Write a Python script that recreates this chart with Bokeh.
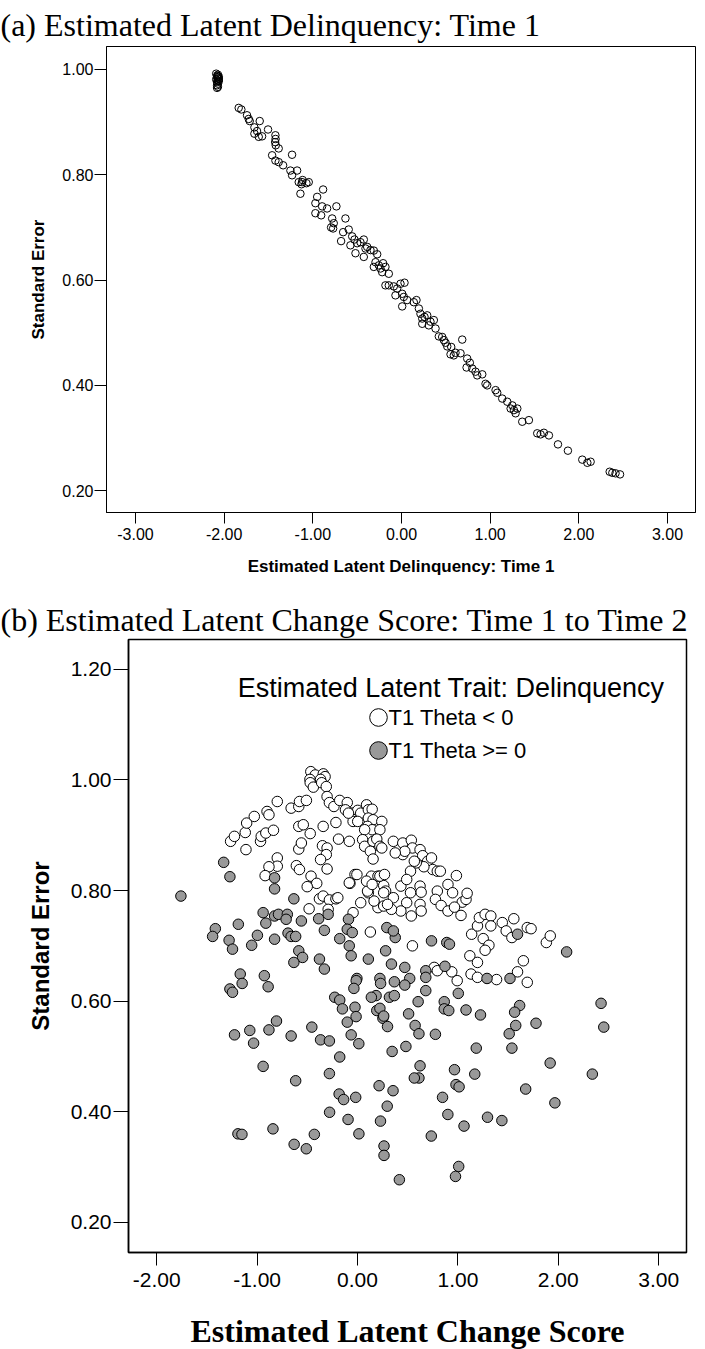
from bokeh.plotting import figure
from bokeh.models import Range1d, FixedTicker, PrintfTickFormatter, Legend, LegendItem, Label
from bokeh.embed import file_html
from bokeh.resources import INLINE

# ---------------- Panel (a): Estimated latent delinquency (Time 1) vs standard error
a_theta = [
    -2.09, -2.08, -2.08, -2.07, -2.07, -2.07, -2.06, -2.08, -2.07, -2.06, -2.08, -2.07, -2.09, -2.07, -2.06, -2.08,
    -1.836, -1.806, -1.742, -1.723, -1.712, -1.599, -1.659, -1.629, -1.572, -1.610, -1.659, -1.505,
    -1.422, -1.420, -1.425, -1.418, -1.385, -1.234, -1.459, -1.422, -1.385, -1.335, -1.253, -1.234,
    -1.177, -1.121, -1.115, -1.128, -1.159, -1.072, -1.046, -1.140, -0.884, -0.951,
    -0.971, -0.895, -0.839, -0.734, -0.971, -0.906, -0.782, -0.764, -0.794, -0.771, -0.632, -0.658,
    -0.595, -0.681, -0.556, -0.530, -0.500, -0.463, -0.425, -0.387, -0.350, -0.406, -0.519, -0.576,
    -0.425, -0.312, -0.274, -0.293, -0.256, -0.207, -0.181, -0.237, -0.312, -0.218, -0.143,
    -0.181, -0.143, -0.087, -0.049, -0.011, 0.034, 0.008, -0.068, 0.026, 0.064, 0.008, 0.139, 0.169,
    0.196, 0.214, 0.234, 0.260, 0.290, 0.327, 0.365, 0.234, 0.308, 0.384,
    0.421, 0.459, 0.478, 0.497, 0.516, 0.561, 0.553, 0.590, 0.609, 0.666, 0.685,
    0.741, 0.771, 0.734, 0.798, 0.835, 0.854, 0.911, 0.948, 0.967, 1.061, 1.080, 1.136, 1.193,
    1.231, 1.268, 1.287, 1.306, 1.250, 1.362, 1.437, 1.531, 1.569, 1.606, 1.663, 1.765, 1.877,
    2.039, 2.096, 2.133, 2.348, 2.378, 2.414, 2.465,
]
a_se = [
    0.992, 0.988, 0.985, 0.990, 0.983, 0.979, 0.986, 0.976, 0.973, 0.978, 0.970, 0.967, 0.981, 0.987, 0.982, 0.965,
    0.927, 0.924, 0.913, 0.906, 0.902, 0.902, 0.890, 0.883, 0.873, 0.872, 0.878, 0.886,
    0.875, 0.868, 0.862, 0.856, 0.850, 0.838, 0.837, 0.827, 0.824, 0.818, 0.808, 0.799,
    0.808, 0.786, 0.790, 0.782, 0.786, 0.784, 0.786, 0.764, 0.772, 0.758,
    0.746, 0.740, 0.736, 0.740, 0.727, 0.723, 0.717, 0.708, 0.700, 0.698, 0.717, 0.691,
    0.696, 0.674, 0.683, 0.677, 0.670, 0.672, 0.677, 0.663, 0.657, 0.660, 0.651, 0.666,
    0.644, 0.656, 0.649, 0.634, 0.628, 0.632, 0.625, 0.622, 0.625, 0.615, 0.612,
    0.590, 0.590, 0.588, 0.584, 0.593, 0.595, 0.574, 0.571, 0.568, 0.562, 0.550, 0.558, 0.562,
    0.546, 0.536, 0.527, 0.530, 0.533, 0.521, 0.524, 0.517, 0.514, 0.508,
    0.493, 0.492, 0.486, 0.481, 0.474, 0.473, 0.459, 0.457, 0.462, 0.461, 0.487,
    0.451, 0.443, 0.434, 0.432, 0.426, 0.419, 0.421, 0.403, 0.400, 0.391, 0.386, 0.375, 0.369,
    0.356, 0.353, 0.347, 0.356, 0.362, 0.331, 0.334, 0.309, 0.307, 0.310, 0.305, 0.288, 0.276,
    0.259, 0.253, 0.255, 0.236, 0.234, 0.233, 0.231,
]

# ---------------- Panel (b): estimated latent change score vs standard error
neg_change = [
    -0.465, -0.421, -0.341, -0.323, -0.474, -0.368, -0.471, -0.440, -0.357, -0.311, -0.303, -0.280, -0.235,
    -0.177, -0.102, -0.120, -0.052, -0.044, 0.002, 0.032, 0.090, 0.108, 0.146, 0.108, 0.155, 0.100, 0.146,
    0.242, 0.223, 0.071, 0.002,
    0.051, 0.071, 0.155, 0.192, 0.223, 0.242, 0.128, 0.155,
    0.357, 0.451, 0.536, 0.547, 0.623, 0.649, 0.699, 0.737, 0.749, 0.795, 0.825, 0.661, 0.585,
    0.451, 0.471, 0.376, 0.528, 0.566,
    0.985, 0.901, 0.947, 1.043, 1.081, 1.092,
    0.795, 0.776, 0.833, 0.901, 1.031, 0.966,
    0.623, 0.634, 0.623, 0.634, 0.536,
    0.432, 0.490, 0.490, 0.528, 0.432,
    0.357, 0.338, 0.261, 0.280, 0.204, 0.261, 0.299, 0.165, 0.108, 0.100,
    0.032, 0.139, 0.090, 0.204,
    -0.025, -0.075, -0.044,
    0.128, 0.547,
    1.137, 1.195, 1.214, 1.271, 1.328, 1.252, 1.309, 1.271, 1.119, 1.195, 1.328, 1.442, 1.481, 1.557,
    1.538, 1.691, 1.729, 1.652, 1.594, 1.691, 1.131, 1.195, 1.385, 1.881, 1.920,
    0.764, 0.795, 0.939, 0.993,
    -1.264, -1.226, -1.118, -1.104, -1.028, -1.111, -0.966, -0.959, -0.913, -0.837, -0.901, -0.882,
    -0.799, -0.661, -0.585, -0.578, -0.509, -0.585, -0.540, -0.471, -0.342, -0.215, -0.189, -0.082,
    -0.090, -0.585, -0.559, -0.349, -0.303, -0.311, -0.368, -0.303, -0.799, -0.799, -0.882, -0.920,
    -0.609, -0.578, -0.463, -0.406, -0.501, -0.379, -0.342, -0.280, -0.215, -0.196, -0.482, -0.292,
    -0.006, -0.082, 0.223, 0.269, 0.146, 0.261,
]
neg_se = [
    1.015, 1.009, 1.011, 1.006, 1.001, 1.001, 0.995, 0.987, 0.995, 0.988, 0.970, 0.959, 0.952,
    0.963, 0.959, 0.946, 0.940, 0.925, 0.945, 0.940, 0.955, 0.946, 0.947, 0.931, 0.928, 0.916, 0.910,
    0.925, 0.910, 0.910, 0.925,
    0.892, 0.880, 0.889, 0.893, 0.880, 0.877, 0.871, 0.857,
    0.889, 0.886, 0.891, 0.877, 0.874, 0.863, 0.853, 0.859, 0.838, 0.835, 0.835, 0.843, 0.850,
    0.865, 0.871, 0.868, 0.835, 0.853,
    0.827, 0.811, 0.796, 0.779, 0.784, 0.795,
    0.799, 0.784, 0.773, 0.763, 0.755, 0.770,
    0.808, 0.797, 0.775, 0.763, 0.754,
    0.808, 0.820, 0.778, 0.796, 0.763,
    0.787, 0.766, 0.809, 0.799, 0.769, 0.772, 0.775, 0.781, 0.796, 0.799,
    0.778, 0.826, 0.817, 0.826,
    0.829, 0.813, 0.760,
    0.725, 0.700,
    0.721, 0.736, 0.751, 0.757, 0.754, 0.713, 0.701, 0.692, 0.682, 0.670, 0.736, 0.742, 0.727, 0.749,
    0.715, 0.733, 0.731, 0.673, 0.653, 0.634, 0.649, 0.643, 0.639, 0.706, 0.718,
    0.661, 0.655, 0.653, 0.637,
    0.889, 0.898, 0.905, 0.922, 0.934, 0.874, 0.889, 0.898, 0.904, 0.909, 0.943, 0.937,
    0.961, 0.949, 0.952, 0.961, 0.963, 0.916, 0.919, 0.903, 0.916, 0.923, 0.893, 0.889,
    0.940, 0.875, 0.886, 0.881, 0.877, 0.865, 0.856, 0.839, 0.859, 0.844, 0.843, 0.827,
    0.845, 0.838, 0.826, 0.813, 0.807, 0.785, 0.790, 0.783, 0.785, 0.787, 0.767, 0.766,
    0.829, 0.814, 0.826, 0.829, 0.811, 0.796,
]

pos_change = [
    -1.333, -1.271, -1.759, -0.826, -0.826, -0.634, -0.940, -0.913, -0.826, -0.787, -0.699, -0.711, -0.559,
    -0.387, -0.292, -0.090, -0.102, -0.052, -1.416, -1.443, -1.187, -1.279, -1.245, -1.054, -0.997, -0.826,
    -0.692, -0.661, -0.616, -0.585, -0.547, -0.634, -0.379, -0.330, -0.330, -0.177, -0.082, -0.063, 0.108,
    0.280, 0.338, 0.376, 0.292, 0.357, 0.471, 0.520, 0.471, 0.737, 0.889, 0.916, 0.680, 0.680, 0.871,
    -0.006, -0.013, -0.036, 0.223, 0.230, 0.185, 0.138, 0.367, 0.318, 0.367,
    -1.168, -1.149, -1.271, -1.245, -0.928, -0.890, -0.227, -0.177, -0.150, -0.102, -0.025, -0.014,
    -0.063, 0.013, -0.177, -0.280, -0.368, -0.280, -1.225, -1.073, -1.035, -0.882, -0.807, -0.661,
    -0.455, -0.940, -0.616, 0.192, 0.223, 0.253, 0.299, 0.261, 0.509, 0.574, 0.612, 0.604, 0.680,
    0.776, 0.864, 0.864, 0.909, 1.004, 1.081, 1.225, 1.183, 1.168, 0.966, 0.345, 0.482, 0.623, 0.612,
    0.566, 1.519, 1.290, 1.615, 1.565, 1.576, 1.511, 1.538, 1.778, 1.919, 2.339, 2.426, 2.453, 2.083, 1.594,
    -0.183, -0.138, -0.018, -0.278, -0.094, 0.014, 0.215, 0.354, 0.229, 0.296, 0.264, 0.264, 0.417,
    0.981, 1.012, 0.847, 0.900, 0.735, 1.061, 1.295, 1.438, 1.008, 0.976, 1.675, 1.966,
    -1.191, -1.151, -0.842, -0.631, -0.510, -0.430,
]
pos_se = [
    0.851, 0.825, 0.790, 0.823, 0.803, 0.785, 0.760, 0.741, 0.754, 0.757, 0.757, 0.748, 0.745,
    0.749, 0.757, 0.748, 0.730, 0.724, 0.731, 0.717, 0.739, 0.710, 0.694, 0.701, 0.719, 0.712,
    0.723, 0.717, 0.717, 0.691, 0.679, 0.670, 0.676, 0.658, 0.728, 0.713, 0.700, 0.682, 0.676,
    0.691, 0.667, 0.715, 0.733, 0.727, 0.661, 0.641, 0.629, 0.709, 0.706, 0.703, 0.655, 0.643, 0.663,
    0.641, 0.637, 0.623, 0.641, 0.632, 0.610, 0.607, 0.635, 0.607, 0.610,
    0.649, 0.632, 0.622, 0.616, 0.646, 0.626, 0.607, 0.602, 0.586, 0.562, 0.589, 0.572,
    0.539, 0.523, 0.499, 0.469, 0.530, 0.528, 0.539, 0.547, 0.524, 0.548, 0.564, 0.537,
    0.553, 0.482, 0.456, 0.583, 0.587, 0.569, 0.554, 0.573, 0.577, 0.556, 0.541, 0.599, 0.619,
    0.540, 0.599, 0.586, 0.583, 0.614, 0.584, 0.575, 0.515, 0.468, 0.476, 0.509, 0.518, 0.483, 0.461,
    0.461, 0.641, 0.641, 0.592, 0.580, 0.556, 0.541, 0.515, 0.560, 0.488, 0.468, 0.596, 0.553, 0.689, 0.721,
    0.432, 0.422, 0.426, 0.399, 0.386, 0.360, 0.447, 0.438, 0.383, 0.410, 0.338, 0.321, 0.277,
    0.449, 0.445, 0.426, 0.395, 0.356, 0.374, 0.390, 0.384, 0.301, 0.283, 0.441, 0.416,
    0.360, 0.359, 0.369, 0.341, 0.333, 0.359,
]

a_xticks = [-3, -2, -1, 0, 1, 2, 3]
a_yticks = [0.2, 0.4, 0.6, 0.8, 1.0]
b_xticks = [-2, -1, 0, 1, 2, 3]
b_yticks = [0.2, 0.4, 0.6, 0.8, 1.0, 1.2]

title_a = "(a)  Estimated Latent Delinquency: Time 1"
title_b = "(b)  Estimated Latent Change Score: Time 1 to Time 2"
legend_title = "Estimated Latent Trait: Delinquency"
legend_labels = ["T1 Theta < 0", "T1 Theta >= 0"]

SANS = "Liberation Sans"
SERIF = "Liberation Serif"


def style(p, xticks, yticks, tick_size, xtick_out, ytick_out, xstand, ystand, outline_w):
    p.xgrid.visible = False
    p.ygrid.visible = False
    p.outline_line_color = "black"
    p.outline_line_width = outline_w
    p.outline_line_alpha = 1
    p.xaxis.ticker = FixedTicker(ticks=xticks)
    p.yaxis.ticker = FixedTicker(ticks=yticks)
    for ax, out, st in ((p.xaxis, xtick_out, xstand), (p.yaxis, ytick_out, ystand)):
        ax.formatter = PrintfTickFormatter(format="%.2f")
        ax.axis_line_color = "black"
        ax.axis_line_width = outline_w
        ax.major_tick_line_color = "black"
        ax.major_tick_line_width = 1
        ax.major_tick_out = out
        ax.major_tick_in = 0
        ax.minor_tick_line_color = None
        ax.major_label_text_font = SANS
        ax.major_label_text_font_size = tick_size
        ax.major_label_text_color = "black"
        ax.major_label_standoff = st
        ax.axis_label_text_color = "black"
    p.title.text_font = SERIF
    p.title.text_font_size = "32px"
    p.title.text_font_style = "normal"
    p.title.text_color = "black"
    p.title.align = "left"


# ---------- figure (a)
p1 = figure(
    frame_width=589, frame_height=466,
    x_range=Range1d(-3.327, 3.316), y_range=Range1d(0.1586, 1.0436),
    min_border_left=106, min_border_right=10, min_border_top=46, min_border_bottom=78,
    output_backend="svg", toolbar_location=None, title=title_a,
)
style(p1, a_xticks, a_yticks, "16px", 11, 12, 4, 1, 1)
p1.title.offset = -106
p1.title.standoff = 8
p1.scatter(a_theta, a_se, marker="circle", size=7.5, fill_color=None,
           line_color="black", line_width=1)
p1.xaxis.axis_label = "Estimated Latent Delinquency: Time 1"
p1.yaxis.axis_label = "Standard Error"
for ax in (p1.xaxis, p1.yaxis):
    ax.axis_label_text_font = SANS
    ax.axis_label_text_font_size = "17px"
    ax.axis_label_text_font_style = "bold"
p1.xaxis.axis_label_standoff = 14
p1.yaxis.axis_label_standoff = 11

# ---------- figure (b)
p2 = figure(
    frame_width=558, frame_height=613,
    x_range=Range1d(-2.281, 3.277), y_range=Range1d(0.1454, 1.254),
    min_border_left=128, min_border_right=19, min_border_top=49, min_border_bottom=97,
    output_backend="svg", toolbar_location=None, title=title_b,
)
style(p2, b_xticks, b_yticks, "21px", 13, 15, 7, 2, 1.5)
p2.title.offset = -128
p2.title.standoff = 4
r_neg = p2.scatter(neg_change, neg_se, marker="circle", size=10.5, fill_color="white",
                   line_color="black", line_width=1)
r_pos = p2.scatter(pos_change, pos_se, marker="circle", size=10.5, fill_color="#999999",
                   line_color="black", line_width=1)
p2.xaxis.axis_label = "Estimated Latent Change Score"
p2.xaxis.axis_label_text_font = SERIF
p2.xaxis.axis_label_text_font_size = "32px"
p2.xaxis.axis_label_text_font_style = "bold"
p2.xaxis.axis_label_standoff = 23
p2.yaxis.axis_label = "Standard Error"
p2.yaxis.axis_label_text_font = SANS
p2.yaxis.axis_label_text_font_size = "24px"
p2.yaxis.axis_label_text_font_style = "bold"
p2.yaxis.axis_label_standoff = 14

# legend: title, one swatch legend per group, and the group labels
p2.add_layout(Label(x=536, y=565, x_units="screen", y_units="screen", text=legend_title,
                    text_align="right", text_baseline="alphabetic", text_font=SANS,
                    text_font_size="27px", text_color="black"))

for rend, loc in ((r_neg, (228, 513)), (r_pos, (228, 480))):
    p2.add_layout(Legend(
        items=[LegendItem(label="", renderers=[rend])],
        location=loc, padding=0, margin=0, spacing=0,
        glyph_width=44, glyph_height=44, label_standoff=0, label_width=0,
        background_fill_alpha=0, border_line_alpha=0,
    ))

for txt, ypos in ((legend_labels[0], 535), (legend_labels[1], 502)):
    p2.add_layout(Label(x=260, y=ypos, x_units="screen", y_units="screen", text=txt,
                        text_align="left", text_baseline="middle", text_font=SANS,
                        text_font_size="22px", text_color="black"))

open("out.html", "w").write(file_html([p1, p2], INLINE))
